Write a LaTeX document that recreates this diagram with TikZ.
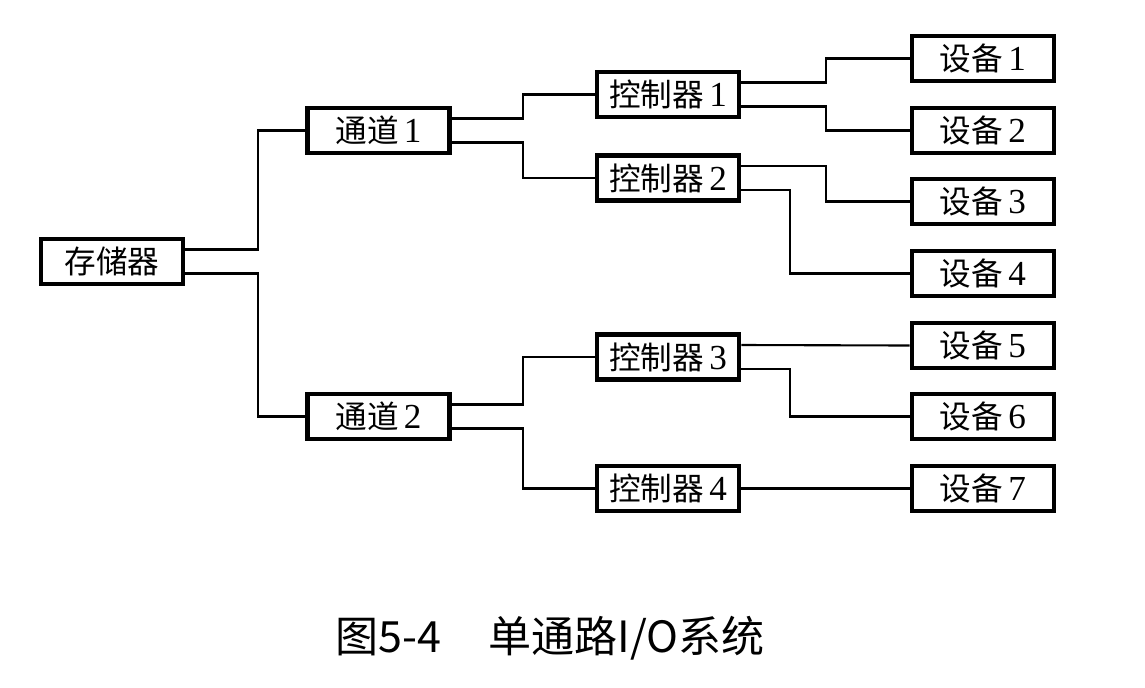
\documentclass[tikz,border=0pt]{standalone}
\usepackage{fontspec}
\setmainfont{Liberation Serif}
\newfontfamily\cjk{Noto Sans CJK SC}
\usetikzlibrary{calc}
\tikzset{
    % boxes of the tree
    unitbox/.style={
        draw=black,
        line width=2.6pt,
        rectangle,
        fill=white,
        minimum width=2.84cm,
        minimum height=0.9cm,
        inner sep=0pt,
        font=\fontsize{18}{20}\selectfont,
    },
    % plain connecting lines
    link/.style={
        draw=black,
        line width=1.2pt,
    },
    caption/.style={
        font=\cjk\fontsize{24.5}{27}\selectfont,
    },
}
\newcommand{\num}[1]{\,{\fontsize{20}{20}\selectfont #1}}
\begin{document}
\begin{tikzpicture}[x=0.02cm, y=-0.02cm]
    \useasboundingbox (0,0) rectangle (1145,687);

    \node (mem) [unitbox] at (112,261.5) {{\cjk 存储器}};

    \node (ch1) [unitbox] at (378.5,130.5) {{\cjk 通道}\num{1}};
    \node (ch2) [unitbox] at (378.5,416.5) {{\cjk 通道}\num{2}};

    \node (ctl1) [unitbox] at (668,94.5) {{\cjk 控制器}\num{1}};
    \node (ctl2) [unitbox] at (668,178) {{\cjk 控制器}\num{2}};
    \node (ctl3) [unitbox] at (668,357) {{\cjk 控制器}\num{3}};
    \node (ctl4) [unitbox] at (668,488.5) {{\cjk 控制器}\num{4}};

    \node (dev1) [unitbox] at (983,58.5) {{\cjk 设备}\num{1}};
    \node (dev2) [unitbox] at (983,130.5) {{\cjk 设备}\num{2}};
    \node (dev3) [unitbox] at (983,201.5) {{\cjk 设备}\num{3}};
    \node (dev4) [unitbox] at (983,273.5) {{\cjk 设备}\num{4}};
    \node (dev5) [unitbox] at (983,345.5) {{\cjk 设备}\num{5}};
    \node (dev6) [unitbox] at (983,416.5) {{\cjk 设备}\num{6}};
    \node (dev7) [unitbox] at (983,488.5) {{\cjk 设备}\num{7}};

    \node (title) [caption] at (550,638) {图5-4\hspace{1.1em}单通路I/O系统};

    % memory to channels
    \draw [link] ($(mem.east)+(0,-12)$) -- ++(73,0) |- (ch1.west);
    \draw [link] ($(mem.east)+(0,12)$) -- ++(73,0) |- (ch2.west);

    % channels to controllers
    \draw [link] ($(ch1.east)+(0,-12)$) -- ++(71,0) |- (ctl1.west);
    \draw [link] ($(ch1.east)+(0,12)$) -- ++(71,0) |- (ctl2.west);
    \draw [link] ($(ch2.east)+(0,-12)$) -- ++(71,0) |- (ctl3.west);
    \draw [link] ($(ch2.east)+(0,12)$) -- ++(71,0) |- (ctl4.west);

    % controllers to devices
    \draw [link] ($(ctl1.east)+(0,-12)$) -- ++(85,0) |- (dev1.west);
    \draw [link] ($(ctl1.east)+(0,12)$) -- ++(85,0) |- (dev2.west);
    \draw [link] ($(ctl2.east)+(0,-12)$) -- ++(85,0) |- (dev3.west);
    \draw [link] ($(ctl2.east)+(0,12)$) -- ++(49,0) |- (dev4.west);
    \draw [link] ($(ctl3.east)+(0,-12)$) -- (dev5.west);
    \draw [link] ($(ctl3.east)+(0,12)$) -- ++(49,0) |- (dev6.west);
    \draw [link] (ctl4.east) -- (dev7.west);
\end{tikzpicture}
\end{document}
